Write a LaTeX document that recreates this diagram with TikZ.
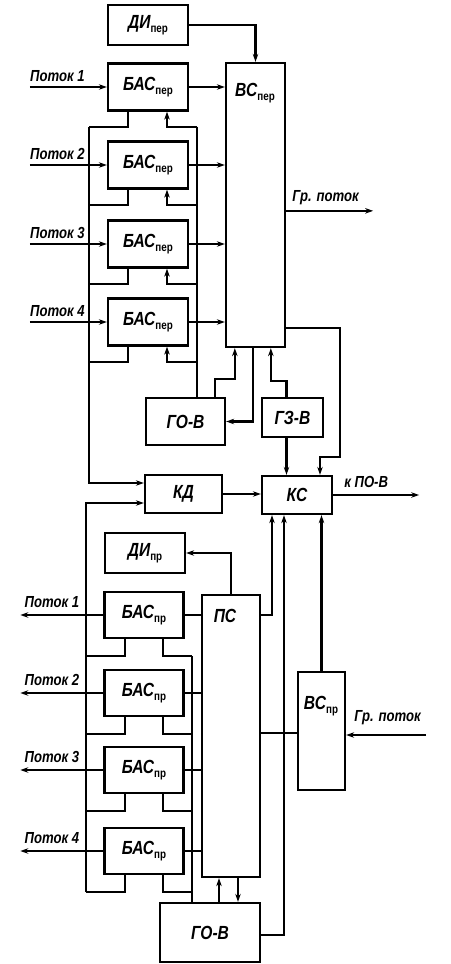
\documentclass[tikz,border=0pt]{standalone}
\usepackage{fontspec}
\newfontfamily\gostfont[FakeStretch=0.82]{Liberation Sans}
\usetikzlibrary{arrows.meta,calc}
\newcommand{\ind}[1]{\raisebox{-4pt}{\fontsize{12}{12}\selectfont\upshape #1}}

\begin{document}
\begin{tikzpicture}[x=1pt,y=-1pt,line width=2.3pt,
    >={Stealth[length=8pt,width=5.5pt]},
    blk/.style={draw,rectangle,inner sep=0pt,font=\gostfont\bfseries\itshape\fontsize{19}{19}\selectfont},
    txt/.style={inner sep=0pt,font=\gostfont\bfseries\itshape\fontsize{19}{19}\selectfont},
    lbl/.style={inner sep=1pt,font=\gostfont\bfseries\itshape\fontsize{16}{16}\selectfont}]
        \useasboundingbox (0,0) rectangle (450,964);

        % Upper half: transmission side
        \node[blk,minimum width=80,minimum height=40] (dip) at (148,25) {ДИ\ind{пер}};
        \node[blk,minimum width=59,minimum height=284] (vsp) at (255.5,205) {};
        \node[txt] (vspl) at (255,93) {ВС\ind{пер}};
        \foreach \i/\y in {1/87,2/165,3/244,4/322} {
                \node[blk,minimum width=80,minimum height=47] (bp\i) at (148,\y) {БАС\ind{пер}};
            }
        \node[blk,minimum width=79,minimum height=47] (gov1) at (185.5,421.5) {ГО-В};
        \node[blk,minimum width=61,minimum height=39] (gzv) at (292.5,417.5) {ГЗ-В};
        \node[blk,minimum width=77,minimum height=38] (kd) at (183.5,494) {КД};
        \node[blk,minimum width=70,minimum height=38] (ks) at (297,495) {КС};

        % Lower half: receiving side
        \node[blk,minimum width=80,minimum height=40] (dipr) at (145,553) {ДИ\ind{пр}};
        \node[blk,minimum width=58,minimum height=282] (ps) at (231,736) {};
        \node[txt] (psl) at (225,616) {ПС};
        \foreach \i/\y in {1/615,2/693,3/770,4/851} {
                \node[blk,minimum width=79,minimum height=46] (bpr\i) at (144,\y) {БАС\ind{пр}};
            }
        \node[blk,minimum width=100,minimum height=59] (gov2) at (210,932.5) {ГО-В};
        \node[blk,minimum width=47,minimum height=118] (vspr) at (321.5,731) {};
        \node[txt] (vsprl) at (321,706) {ВС\ind{пр}};

        % Upper streams, outputs and buses
        \draw[->] (dip.east) -| (vsp.north);
        \foreach \i in {1,...,4} {
                \draw[->] ($(bp\i.west)+(-77,0)$) coordinate (in\i) -- (bp\i.west);
                \node[lbl,anchor=south east] (pl\i) at ($(bp\i.west)+(-20,-3)$) {Поток \i};
                \draw[->] (bp\i.east) -- (bp\i.east -| vsp.west);
                \coordinate (bl\i) at ($(bp\i.south)+(-59,15)$);
                \coordinate (br\i) at ($(bp\i.south)+(49,15)$);
                \draw ($(bp\i.south)+(-20,0)$) |- (bl\i);
                \draw[->] (br\i) -| ($(bp\i.south)+(19,0)$);
            }
        \draw[->] (bl1) |- ($(kd.west)+(0,-11)$);
        \draw (br1) -- (br1 |- gov1.north);

        % ГО-В and ГЗ-В of the upper half
        \coordinate (vb1) at ($(vsp.south west)+(10,0)$);
        \coordinate (vb3) at ($(vsp.south west)+(46,0)$);
        \draw[->] ($(gov1.north east)+(-11,0)$) |- ($(vb1)+(0,31)$) -- (vb1);
        \draw[->] ($(vsp.south west)+(28,0)$) |- (gov1.east);
        \draw[->] ($(gzv.north)+(-6,0)$) |- ($(vb3)+(0,33)$) -- (vb3);
        \coordinate (gzs) at ($(gzv.south)+(-6,0)$);
        \draw[->] (gzs) -- (gzs |- ks.north);
        \coordinate (ve) at ($(vsp.south east)+(0,-20)$);
        \coordinate (kst) at ($(ks.north)+(23,0)$);
        \draw[->] (ve) -| ($(kst)+(20,-18)$) -| (kst);

        % Group streams and exit
        \coordinate (gp1) at ($(vsp.north east)+(0,149)$);
        \draw[->] (gp1) -- ++(87,0) coordinate (gp1e);
        \node[lbl,anchor=south west] (gpl1) at ($(gp1)+(4,-4)$) {Гр. поток};
        \draw[->] (kd.east) -- (kd.east -| ks.west);
        \draw[->] (ks.east) -- ++(86,0) coordinate (out);
        \node[lbl,anchor=south west] (outl) at ($(ks.east)+(9,-5)$) {к ПО-В};

        % Lower streams and buses
        \draw[->] (ps.north) |- (dipr.east);
        \draw[->] ($(ps.north east)+(0,21)$) -| ($(ks.south)+(-25,0)$);
        \foreach \i in {1,...,4} {
                \draw[->] (bpr\i.west) -- ++(-83,0) coordinate (po\i);
                \node[lbl,anchor=south east] (prl\i) at ($(bpr\i.west)+(-22,-5)$) {Поток \i};
                \draw (bpr\i.east) -- (bpr\i.east -| ps.west);
                \coordinate (cl\i) at ($(bpr\i.south)+(-58,17)$);
                \coordinate (cr\i) at ($(bpr\i.south)+(48,17)$);
                \draw ($(bpr\i.south)+(-19,0)$) |- (cl\i);
                \draw ($(bpr\i.south)+(19,0)$) |- (cr\i);
            }
        \draw[->] (cl4) |- ($(kd.west)+(0,9)$);
        \draw (cr1) -- (cr1 |- gov2.north);

        % ГО-В and ВС of the lower half
        \coordinate (g2u) at ($(gov2.north)+(9,0)$);
        \coordinate (g2d) at ($(gov2.north)+(28,0)$);
        \draw[->] (g2u) -- (g2u |- ps.south);
        \draw[<-] (g2d) -- (g2d |- ps.south);
        \draw[->] ($(gov2.east)+(0,2.5)$) -| ($(ks.south)+(-13,0)$);
        \draw[->] (vspr.north) -- (vspr.north |- ks.south);
        \coordinate (vw) at ($(vspr.west)+(0,2)$);
        \draw (vw) -- (vw -| ps.east);
        \coordinate (gp2) at ($(vspr.east)+(80,4)$);
        \draw[->] (gp2) -- (gp2 -| vspr.east);
        \node[lbl,anchor=south west] (gpl2) at ($(vspr.east)+(6,-4)$) {Гр. поток};
    \end{tikzpicture}
\end{document}
